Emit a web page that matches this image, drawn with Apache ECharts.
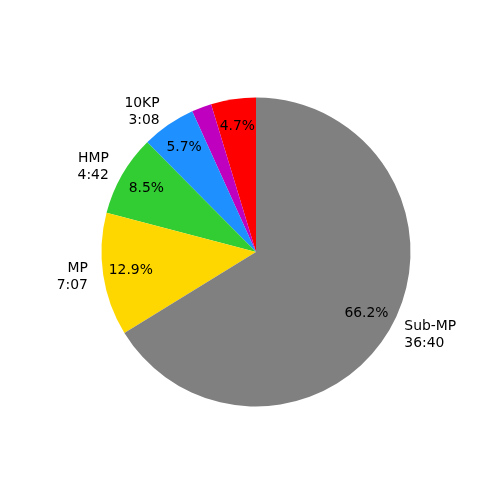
<!DOCTYPE html>
<html>
<head>
<meta charset="utf-8">
<script src="https://cdn.jsdelivr.net/npm/echarts@6/dist/echarts.min.js"></script>
<style>html,body{margin:0;padding:0;background:#fff;}#c{width:500px;height:500px;}</style>
</head>
<body>
<div id="c"></div>
<script>
// Data (counter-clockwise from 12 o'clock)
var categories = ['', '', '10KP', 'HMP', 'MP', 'Sub-MP'];
var timeLabels = ['', '', '3:08', '4:42', '7:07', '36:40'];
var seconds = [156, 69, 188, 282, 427, 2200];
var colors = ['#ff0000', '#bf00bf', '#1e90ff', '#32cd32', '#ffd700', '#808080'];

var total = seconds.reduce(function (a, b) { return a + b; }, 0);
var R = 154.5;
var center = [256, 252];
var font = 'DejaVu Sans';
var fs = 13.9;

var mainData = seconds.map(function (v, i) {
  var hasLabel = categories[i] !== '';
  return {
    name: categories[i],
    value: v,
    itemStyle: { color: colors[i] },
    label: { show: hasLabel },
    labelLine: { show: false }
  };
});
var pctData = seconds.map(function (v, i) {
  return { name: categories[i] + '_pct' + i, value: v };
});

var chart = echarts.init(document.getElementById('c'), null, { renderer: 'canvas' });
chart.setOption({
  animation: false,
  backgroundColor: '#ffffff',
  series: [
    {
      type: 'pie',
      center: center,
      radius: [0, R],
      startAngle: 90,
      clockwise: false,
      avoidLabelOverlap: false,
      silent: true,
      itemStyle: { borderWidth: 0 },
      label: {
        position: 'outside',
        distanceToLabelLine: 0,
        fontFamily: font,
        fontSize: fs,
        lineHeight: 16.7,
        color: '#000',
        formatter: function (p) {
          return categories[p.dataIndex] + '\n' + timeLabels[p.dataIndex];
        }
      },
      labelLine: { show: false, length: R * 0.1, length2: 0 },
      data: mainData
    },
    {
      type: 'pie',
      center: center,
      radius: [0, R * 1.6],
      startAngle: 90,
      clockwise: false,
      avoidLabelOverlap: false,
      silent: true,
      itemStyle: { color: 'rgba(0,0,0,0)', borderWidth: 0 },
      label: {
        position: 'inside',
        fontFamily: font,
        fontSize: fs,
        color: '#000',
        formatter: function (p) {
          var pct = seconds[p.dataIndex] / total * 100;
          return pct >= 3 ? pct.toFixed(1) + '%' : '';
        }
      },
      labelLine: { show: false },
      data: pctData
    }
  ]
});
</script>
</body>
</html>
